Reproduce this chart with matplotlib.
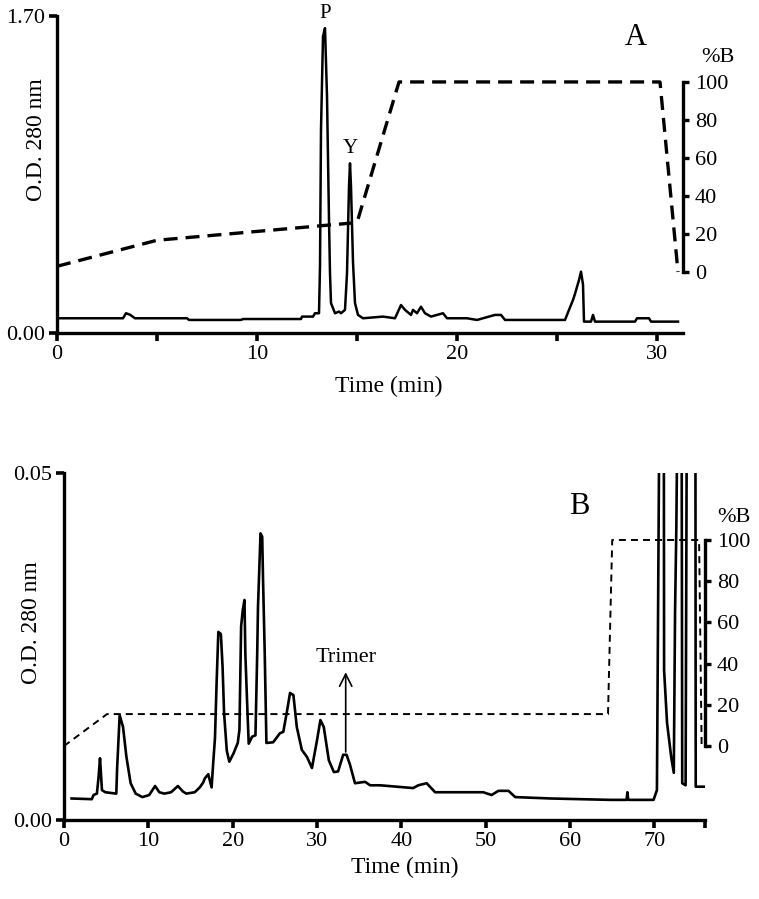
import matplotlib
matplotlib.use("Agg")
import matplotlib.pyplot as plt

plt.rcParams['font.family'] = ['Liberation Serif', 'DejaVu Serif']

# panel A trace (time in min, O.D. 280 nm)
a_t = [0, 3.3, 3.45, 3.65, 3.9, 6.5, 6.6, 9.2, 9.3, 12.2, 12.25, 12.8, 12.9, 13.1,
       13.15, 13.2, 13.3, 13.4, 13.5, 13.6, 13.65, 13.7, 13.9, 14.1, 14.2, 14.4,
       14.5, 14.6, 14.65, 14.7, 14.8, 14.9, 15.05, 15.3, 16.3, 16.9, 17.2, 17.4,
       17.7, 17.8, 18.0, 18.2, 18.4, 18.7, 19.3, 19.5, 20.5, 21.0, 21.9, 22.2,
       22.4, 25.4, 25.6, 25.8, 25.9, 26.1, 26.2, 26.3, 26.35, 26.7, 26.8, 26.9,
       28.9, 29.0, 29.6, 29.7, 31.05]
a_od = [0.079, 0.079, 0.106, 0.098, 0.079, 0.079, 0.070, 0.070, 0.075, 0.075,
        0.088, 0.088, 0.106, 0.106, 0.355, 1.09, 1.59, 1.635, 1.27, 0.606, 0.32,
        0.16, 0.106, 0.115, 0.106, 0.124, 0.32, 0.785, 0.91, 0.785, 0.38, 0.16,
        0.097, 0.079, 0.088, 0.079, 0.15, 0.124, 0.097, 0.124, 0.106, 0.141,
        0.106, 0.088, 0.106, 0.079, 0.079, 0.070, 0.097, 0.097, 0.070, 0.070,
        0.124, 0.177, 0.21, 0.284, 0.329, 0.26, 0.061, 0.061, 0.097, 0.061,
        0.061, 0.079, 0.079, 0.061, 0.061]
# panel A gradient (%B)
a_grad_t = [0, 5, 15, 17.1, 30.15, 31.05]
a_grad_b = [3, 16.7, 26, 100, 100, 0]

# panel B trace
b_t = [0.9, 3.3, 3.5, 3.9, 4.1, 4.27, 4.5, 4.9, 6.2, 6.3, 6.6, 7.0, 7.4, 7.9, 8.5,
       9.3, 10.1, 10.8, 11.3, 11.9, 12.7, 13.5, 14.1, 14.5, 15.5, 16.1, 16.5, 16.7,
       17.1, 17.5, 17.7, 17.9, 18.1, 18.3, 18.6, 18.8, 18.98, 19.3, 19.6, 20.1,
       20.6, 20.8, 21.0, 21.2, 21.4, 21.5, 21.7, 21.9, 22.3, 22.7, 22.9, 23.0,
       23.3, 23.5, 23.6, 23.8, 24.0, 24.8, 25.6, 26.0, 26.4, 26.8, 27.2, 27.6,
       28.2, 28.8, 29.4, 30.0, 30.4, 30.8, 31.4, 32.0, 32.5, 33.1, 33.5, 33.9,
       34.5, 35.7, 36.3, 37.5, 41.4, 42.0, 43.0, 44.0, 49.7, 50.7, 51.5, 52.7,
       53.5, 57.7, 64.8, 66.7, 66.8, 66.9, 69.9, 70.3, 70.7, 71.1, 71.15, 71.5,
       72.0, 72.3, 72.45, 72.6, 72.9, 73.2, 73.3, 73.7, 73.9, 74.85, 74.9, 76.0]
b_od = [0.0031, 0.0030, 0.0036, 0.0038, 0.0062, 0.0089, 0.0043, 0.0040, 0.0038,
        0.0075, 0.0151, 0.0134, 0.0091, 0.0053, 0.0038, 0.0033, 0.0036, 0.0049,
        0.0040, 0.0038, 0.0040, 0.0049, 0.0041, 0.0038, 0.0040, 0.0047, 0.0054,
        0.0060, 0.0066, 0.0047, 0.0084, 0.0118, 0.0200, 0.0271, 0.0268, 0.0221,
        0.0154, 0.0100, 0.0084, 0.0096, 0.0111, 0.0130, 0.0279, 0.0303, 0.0317,
        0.0240, 0.0173, 0.0110, 0.0120, 0.0122, 0.0235, 0.0307, 0.0413, 0.0408,
        0.0346, 0.0240, 0.0111, 0.0112, 0.0125, 0.0127, 0.0154, 0.0183, 0.0180,
        0.0134, 0.0101, 0.0091, 0.0075, 0.0115, 0.0144, 0.0134, 0.0086, 0.0069,
        0.0070, 0.0094, 0.0094, 0.0080, 0.0053, 0.0055, 0.0050, 0.0050, 0.0046,
        0.0050, 0.0053, 0.0040, 0.0040, 0.0036, 0.0042, 0.0042, 0.0033, 0.0031,
        0.0029, 0.0029, 0.0040, 0.0029, 0.0029, 0.0043, 0.08, 0.08, 0.0216,
        0.0140, 0.0090, 0.0068, 0.0300, 0.0420, 0.08, 0.08, 0.0053, 0.0050,
        0.08, 0.08, 0.0048, 0.0048]
b_grad_t = [0, 5.1, 64.5, 65.0, 75.3, 75.6]
b_grad_b = [0, 15.5, 15.5, 100, 100, 0]

pct_ticks = [0, 20, 40, 60, 80, 100]

fs = 16
fig = plt.figure(figsize=(7.59, 8.99), dpi=100)


def style(ax, ax2, right_lim):
    for s in ["top", "right"]:
        ax.spines[s].set_visible(False)
    for s in ["left", "bottom"]:
        ax.spines[s].set_linewidth(2.4)
    ax.tick_params(direction="out", length=5.5, width=2.6, labelsize=fs, pad=3)
    ax.tick_params(which="minor", direction="out", length=5.5, width=2.6)
    for s in ["top", "left", "bottom"]:
        ax2.spines[s].set_visible(False)
    ax2.spines["right"].set_linewidth(2.4)
    ax2.spines["right"].set_bounds(0, 100)
    ax2.set_ylim(*right_lim)
    ax2.set_yticks(pct_ticks)
    ax2.tick_params(direction="out", length=4.5, width=2.4, labelsize=fs, pad=4)


# ---- panel A
ax = fig.add_axes([57 / 759, 1 - 333 / 899, 626 / 759, 317 / 899])
ax2 = ax.twinx()
ax.plot(a_t, a_od, color="black", lw=1.8)
ax2.plot(a_grad_t, a_grad_b, color="black", lw=2.4, dashes=(4.2, 2.4))
ax.set_xlim(0, 31.3)
ax.set_ylim(0, 1.70)
ax.set_xticks([0, 10, 20, 30])
ax.set_xticks([5, 15, 25], minor=True)
ax.set_yticks([0, 1.70])
ax.set_yticklabels(["0.00", "1.70"])
style(ax, ax2, (-32.1, 134.7))
ax.set_xlabel("Time (min)", fontsize=17)
ax.xaxis.set_label_coords(0.53, -0.135)
ax.set_ylabel("O.D. 280 nm", fontsize=17)
ax.yaxis.set_label_coords(-0.016, 0.61)
ax.text(13.4, 1.69, "P", fontsize=15, ha="center", va="baseline", clip_on=False)
ax.text(14.65, 0.965, "Y", fontsize=15, ha="center", va="baseline")
ax.text(28.95, 1.545, "A", fontsize=22, ha="center", va="baseline")
ax2.text(33.05, 110.5, "%B", fontsize=fs, ha="center", va="baseline", clip_on=False)

# ---- panel B
bx = fig.add_axes([64 / 759, 1 - 820 / 899, 641 / 759, 347 / 899])
bx2 = bx.twinx()
bx.plot(b_t, b_od, color="black", lw=1.9)
bx2.plot(b_grad_t, b_grad_b, color="black", lw=1.4, dashes=(3.6, 2.6))
bx.set_xlim(0, 76)
bx.set_ylim(0, 0.05)
bx.set_xticks(range(0, 71, 10))
bx.set_xticks([76], minor=True)
bx.set_yticks([0, 0.05])
bx.set_yticklabels(["0.00", "0.05"])
style(bx, bx2, (-35.9, 132.5))
bx.set_xlabel("Time (min)", fontsize=17)
bx.xaxis.set_label_coords(0.532, -0.105)
bx.set_ylabel("O.D. 280 nm", fontsize=17)
bx.yaxis.set_label_coords(-0.034, 0.57)
bx.text(61.1, 0.0441, "B", fontsize=22, ha="center", va="baseline")
bx.text(33.4, 0.0228, "Trimer", fontsize=fs, ha="center", va="baseline")
bx.annotate("", xy=(33.4, 0.0213), xytext=(33.4, 0.0098),
            arrowprops=dict(arrowstyle="->", lw=1.2, color="black",
                            mutation_scale=22, shrinkA=0, shrinkB=0))
bx2.text(79.4, 108.7, "%B", fontsize=fs, ha="center", va="baseline", clip_on=False)

fig.savefig("out.png", dpi=100)
